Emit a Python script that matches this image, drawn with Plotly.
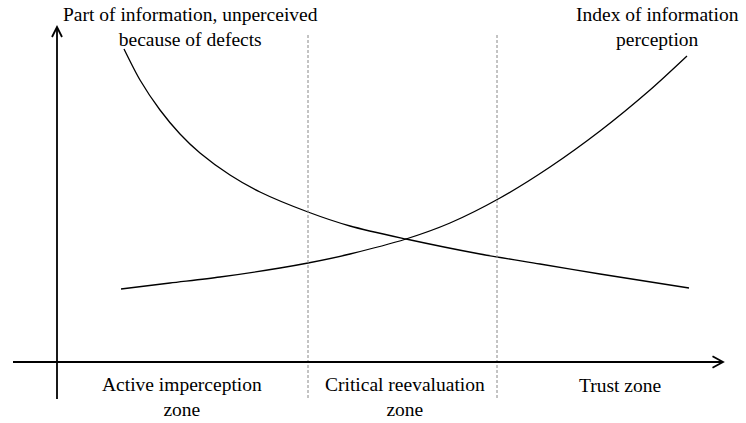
import plotly.graph_objects as go

# Coordinate system: origin at the axes crossing, units ~ 1 px
defects_x = [67, 83, 103, 123, 143, 173, 203, 251, 293, 349, 423, 483, 543, 632]
defects_y = [313, 282, 252, 228, 209, 187, 170, 150, 136, 123, 108, 98, 88, 74]

index_x = [64, 113, 163, 223, 251, 293, 349, 393, 443, 493, 543, 593, 630]
index_y = [73, 79, 85, 94, 99, 108, 123, 139, 164, 195, 231, 272, 306]

zone_bounds = [251, 440]
zone_labels = ["Active imperception<br>zone", "Critical reevaluation<br>zone", "Trust zone"]
zone_centers = [125, 348, 563]
zone_label_y = [-35, -35, -23]
curve_labels = ["Part of information, unperceived<br>because of defects",
                "Index of information<br>perception"]
curve_label_x = [133, 600]
curve_label_y = [335, 335]

X_MIN, X_MAX = -57, 689
Y_MIN, Y_MAX = -61, 362
X_AXIS_START, X_AXIS_END = -44, 666
Y_AXIS_START, Y_AXIS_END = -37, 335
DASH_TOP, DASH_BOTTOM = 329, -36

FONT = "Liberation Serif, Times New Roman, serif"
FONT_SIZE = 19.5

fig = go.Figure()
fig.add_trace(go.Scatter(x=defects_x, y=defects_y, mode="lines",
                         line=dict(color="black", width=1.3, shape="spline", smoothing=0.8),
                         hoverinfo="skip", showlegend=False))
fig.add_trace(go.Scatter(x=index_x, y=index_y, mode="lines",
                         line=dict(color="black", width=1.3, shape="spline", smoothing=0.8),
                         hoverinfo="skip", showlegend=False))

shapes = []
for xb in zone_bounds:
    shapes.append(dict(type="line", x0=xb, x1=xb, y0=DASH_BOTTOM, y1=DASH_TOP,
                       line=dict(color="#888888", width=1, dash="3px,2px")))
# axes
shapes.append(dict(type="line", x0=X_AXIS_START, x1=X_AXIS_END, y0=0, y1=0,
                   line=dict(color="black", width=1.8)))
shapes.append(dict(type="line", x0=0, x1=0, y0=Y_AXIS_START, y1=Y_AXIS_END,
                   line=dict(color="black", width=1.8)))
# arrow heads
shapes.append(dict(type="path",
                   path=f"M {X_AXIS_END-10.5} 5.8 L {X_AXIS_END} 0 L {X_AXIS_END-10.5} -5.8",
                   line=dict(color="black", width=1.8)))
shapes.append(dict(type="path",
                   path=f"M -5 {Y_AXIS_END-10} L 0 {Y_AXIS_END} L 5 {Y_AXIS_END-10}",
                   line=dict(color="black", width=1.8)))

annotations = []
for lbl, cx, cy in zip(zone_labels, zone_centers, zone_label_y):
    annotations.append(dict(x=cx, y=cy, text=lbl, showarrow=False, xanchor="center",
                            yanchor="middle", align="center",
                            font=dict(family=FONT, size=FONT_SIZE, color="black")))
for lbl, cx, cy in zip(curve_labels, curve_label_x, curve_label_y):
    annotations.append(dict(x=cx, y=cy, text=lbl, showarrow=False, xanchor="center",
                            yanchor="middle", align="center",
                            font=dict(family=FONT, size=FONT_SIZE, color="black")))

fig.update_layout(
    width=746, height=423,
    margin=dict(l=0, r=0, t=0, b=0),
    paper_bgcolor="white", plot_bgcolor="white",
    xaxis=dict(range=[X_MIN, X_MAX], visible=False, fixedrange=True),
    yaxis=dict(range=[Y_MIN, Y_MAX], visible=False, fixedrange=True),
    shapes=shapes, annotations=annotations,
    font=dict(family=FONT),
)

fig.write_html("out.html", config={"displayModeBar": False},
               post_script="document.body.style.margin='0';document.body.style.padding='0';")
